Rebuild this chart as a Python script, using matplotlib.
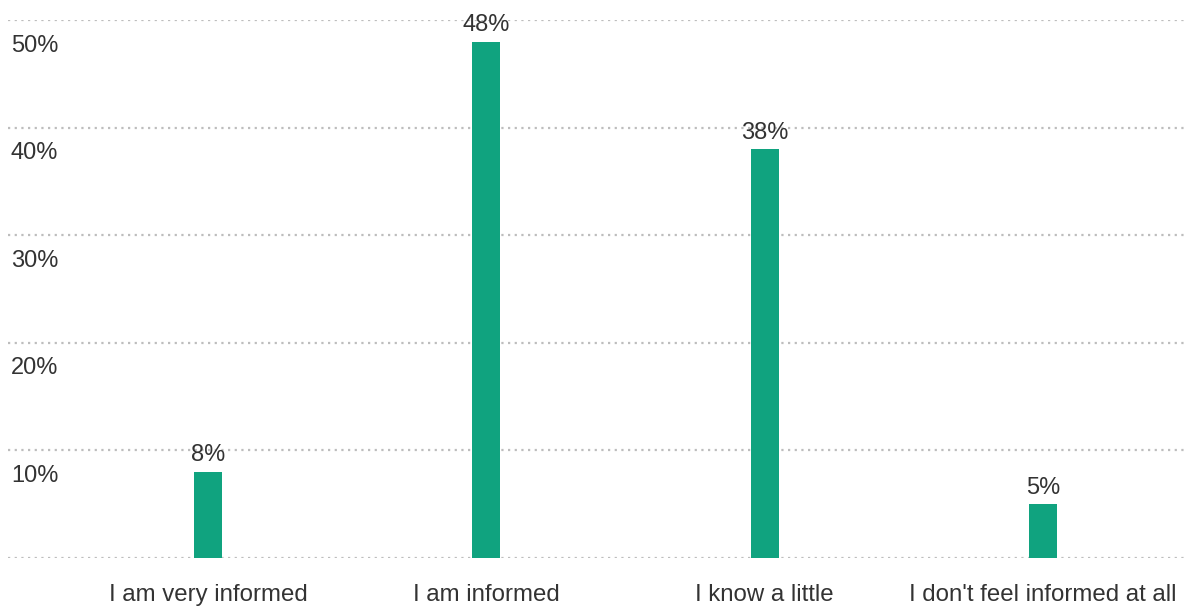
import matplotlib.pyplot as plt

categories = ["I am very informed", "I am informed", "I know a little", "I don't feel informed at all"]
values = [8, 48, 38, 5]
y_ticks = [10, 20, 30, 40, 50]

plt.rcParams["font.family"] = ["Liberation Sans", "DejaVu Sans"]

fig = plt.figure(figsize=(11.88, 6.09), dpi=100)
ax = fig.add_axes([8 / 1188, 51 / 609, 1 - 8 / 1188, 538 / 609])

x = list(range(len(categories)))
bars = ax.bar(x, values, width=0.1, color="#10a37f", zorder=3)
ax.bar_label(bars, labels=[f"{v}%" for v in values], padding=4,
             fontsize=17, color="#333333")

ax.set_xlim(-200 / 278, 3 + 145 / 278)
ax.set_ylim(0, 50)

for v in [0] + y_ticks:
    ax.axhline(v, color="#bdbdbd", linestyle=(0, (1, 2)), linewidth=1.6, zorder=1)

for v in y_ticks:
    ax.annotate(f"{v}%", xy=(0, v), xycoords=ax.get_yaxis_transform(),
                xytext=(2, -18.5), textcoords="offset points",
                va="center", ha="left", fontsize=17, color="#333333")

ax.set_xticks(x)
ax.set_xticklabels(categories, fontsize=17.3, color="#333333")
ax.tick_params(axis="x", length=0, pad=18.5)
ax.set_yticks([])
for s in ax.spines.values():
    s.set_visible(False)

fig.savefig("out.png", dpi=100)
